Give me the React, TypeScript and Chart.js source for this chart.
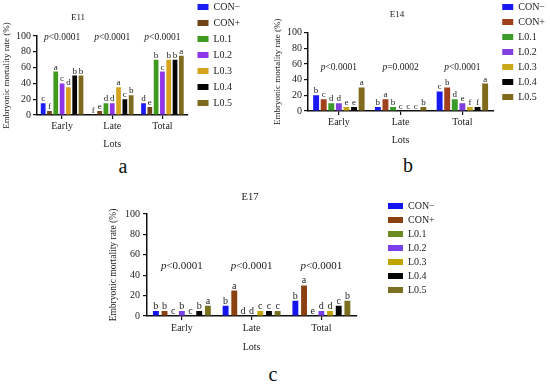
import React, { useEffect, useRef } from "react";
import { Chart, registerables } from "chart.js";

Chart.register(...registerables);

// ---------- shared data ----------
const groups = ["Early", "Late", "Total"];
const seriesNames = ["CON−", "CON+", "L0.1", "L0.2", "L0.3", "L0.4", "L0.5"];
const yTickValues = [0, 20, 40, 60, 80, 100];
const yAxisTitle = "Embryonic mortality rate (%)";
const xAxisTitle = "Lots";

// ---------- E11 ----------
const e11Values = [
  [15, 0, 15],
  [5, 5, 10],
  [55, 15, 70],
  [40, 15, 55],
  [35, 35, 70],
  [50, 20, 70],
  [50, 25, 75],
];
const e11Letters = [
  ["c", "f", "d"],
  ["f", "e", "e"],
  ["a", "d", "b"],
  ["c", "d", "c"],
  ["d", "a", "b"],
  ["b", "c", "b"],
  ["b", "b", "a"],
];
const e11PValues = ["<0.0001", "<0.0001", "<0.0001"];

// ---------- E14 ----------
const e14Values = [
  [20, 5, 25],
  [15, 15, 30],
  [10, 5, 15],
  [10, 0, 10],
  [5, 0, 5],
  [5, 0, 5],
  [30, 5, 35],
];
const e14Letters = [
  ["b", "b", "c"],
  ["c", "a", "b"],
  ["d", "b", "d"],
  ["d", "c", "e"],
  ["e", "c", "f"],
  ["e", "c", "f"],
  ["a", "b", "a"],
];
const e14PValues = ["<0.0001", "=0.0002", "<0.0001"];

// ---------- E17 ----------
const e17Values = [
  [5, 10, 15],
  [5, 25, 30],
  [0, 0, 0],
  [5, 0, 5],
  [0, 5, 5],
  [5, 5, 10],
  [10, 5, 15],
];
const e17Letters = [
  ["b", "b", "b"],
  ["b", "a", "a"],
  ["c", "d", "e"],
  ["b", "d", "d"],
  ["c", "c", "d"],
  ["b", "c", "c"],
  ["a", "c", "b"],
];
const e17PValues = ["<0.0001", "<0.0001", "<0.0001"];

// ---------- styles ----------
const e11Colors = ["#1c1cf5", "#6e4418", "#3f9a1e", "#8e35e8", "#d7a21c", "#050505", "#7d6a1e"];
const e14Colors = ["#1a1af0", "#a0401c", "#3a9a2a", "#8040e0", "#c8a818", "#050505", "#806a1c"];
const e17Colors = ["#1515f0", "#8b4010", "#6b8a22", "#7b40f0", "#c0a400", "#050505", "#7a7020"];

const SERIF = '"Liberation Serif", "Times New Roman", serif';
const INK = "#222";

type Panel = {
  title: string;
  values: number[][];
  letters: string[][];
  pValues: string[];
  colors: string[];
  left: number;
  top: number;
  width: number;
  height: number;
  padTop: number;
  padRight: number;
  legendPad: number;
  boxW: number;
  legendDX: number;
  legendDY: number;
  xTickPad: number;
  yTickPad: number;
  yTitleSize: number;
  yTitlePadT: number;
  yTitlePadB: number;
  titleX: number;
  titleY: number;
  titleSize: number;
  pLevel: number;
  pSize: number;
  letterSize: number;
  barPct: number;
  catPct: number;
};

function makeAnnotPlugin(p: Panel) {
  return {
    id: "annot" + p.title,
    afterLayout(chart: any) {
      const lg = chart.legend;
      if (lg) {
        lg.left += p.legendDX;
        lg.right += p.legendDX;
        lg.top += p.legendDY;
      }
    },
    afterDatasetsDraw(chart: any) {
      const ctx = chart.ctx as CanvasRenderingContext2D;
      ctx.save();
      ctx.fillStyle = INK;
      // title
      ctx.font = `${p.titleSize}px ${SERIF}`;
      ctx.textAlign = "center";
      ctx.textBaseline = "middle";
      ctx.fillText(p.title, p.titleX, p.titleY);
      // significance letters above bars
      ctx.font = `${p.letterSize}px ${SERIF}`;
      ctx.textBaseline = "alphabetic";
      chart.data.datasets.forEach((_ds: any, i: number) => {
        const meta = chart.getDatasetMeta(i);
        meta.data.forEach((el: any, j: number) => {
          const letter = p.letters[i][j];
          ctx.fillText(letter, el.x, el.y - 2);
        });
      });
      // p values
      const xs = chart.scales.x;
      const ys = chart.scales.y;
      const py = ys.getPixelForValue(p.pLevel);
      ctx.textAlign = "left";
      ctx.textBaseline = "middle";
      p.pValues.forEach((rest, k) => {
        const cx = xs.getPixelForValue(k);
        ctx.font = `italic ${p.pSize}px ${SERIF}`;
        const wp = ctx.measureText("p").width;
        ctx.font = `${p.pSize}px ${SERIF}`;
        const wr = ctx.measureText(rest).width;
        const x0 = cx - (wp + wr) / 2;
        ctx.font = `italic ${p.pSize}px ${SERIF}`;
        ctx.fillText("p", x0, py);
        ctx.font = `${p.pSize}px ${SERIF}`;
        ctx.fillText(rest, x0 + wp, py);
      });
      ctx.restore();
    },
  };
}

function buildConfig(p: Panel): any {
  const font = { family: SERIF, size: 10 };
  const axisLine = { display: true, color: "#111", width: 1.5 };
  const tickGrid = {
    display: true,
    drawOnChartArea: false,
    drawTicks: true,
    tickLength: 4,
    color: "#111",
    lineWidth: 1.2,
  };
  return {
    type: "bar",
    data: {
      labels: groups,
      datasets: seriesNames.map((name, i) => ({
        label: name,
        data: p.values[i],
        backgroundColor: p.colors[i],
        borderWidth: 0,
        barPercentage: p.barPct,
        categoryPercentage: p.catPct,
      })),
    },
    options: {
      responsive: false,
      animation: false,
      layout: { padding: { left: 0, right: p.padRight, top: p.padTop, bottom: 0 } },
      plugins: {
        legend: {
          display: true,
          position: "right",
          align: "start",
          labels: {
            boxWidth: p.boxW,
            boxHeight: 6,
            padding: p.legendPad,
            color: INK,
            font,
          },
        },
        title: { display: false },
        tooltip: { enabled: false },
      },
      scales: {
        x: {
          offset: true,
          grid: { ...tickGrid, offset: false },
          border: axisLine,
          ticks: { color: INK, font, padding: p.xTickPad, maxRotation: 0 },
          title: {
            display: true,
            text: xAxisTitle,
            color: INK,
            font,
            padding: { top: 5, bottom: 2 },
          },
        },
        y: {
          min: 0,
          max: 100,
          afterBuildTicks: (axis: any) => {
            axis.ticks = yTickValues.map((v) => ({ value: v }));
          },
          grid: tickGrid,
          border: axisLine,
          ticks: { color: INK, font, padding: p.yTickPad },
          title: {
            display: true,
            text: yAxisTitle,
            color: INK,
            font: { family: SERIF, size: p.yTitleSize },
            padding: { top: p.yTitlePadT, bottom: p.yTitlePadB },
          },
        },
      },
    },
    plugins: [makeAnnotPlugin(p)],
  };
}

function PanelChart({ p }: { p: Panel }) {
  const ref = useRef<HTMLCanvasElement | null>(null);
  useEffect(() => {
    if (!ref.current) return;
    const chart = new Chart(ref.current, buildConfig(p));
    return () => chart.destroy();
  }, [p]);
  return (
    <canvas
      ref={ref}
      width={p.width}
      height={p.height}
      style={{
        position: "absolute",
        left: p.left,
        top: p.top,
        width: p.width,
        height: p.height,
      }}
    />
  );
}

const panelA: Panel = {
  title: "E11",
  values: e11Values,
  letters: e11Letters,
  pValues: e11PValues,
  colors: e11Colors,
  left: 0,
  top: 0,
  width: 250,
  height: 152,
  padTop: 36,
  padRight: 0,
  legendPad: 6,
  boxW: 11,
  legendDX: 4,
  legendDY: -40,
  xTickPad: 1,
  yTickPad: 2,
  yTitleSize: 9,
  yTitlePadT: 1.6,
  yTitlePadB: 1.6,
  titleX: 78,
  titleY: 18,
  titleSize: 9,
  pLevel: 97.5,
  pSize: 9.5,
  letterSize: 9,
  barPct: 0.75,
  catPct: 0.88,
};

const panelB: Panel = {
  title: "E14",
  values: e14Values,
  letters: e14Letters,
  pValues: e14PValues,
  colors: e14Colors,
  left: 271,
  top: 0,
  width: 280,
  height: 148,
  padTop: 32.5,
  padRight: 0,
  legendPad: 5,
  boxW: 11,
  legendDX: 4,
  legendDY: -35.5,
  xTickPad: 1,
  yTickPad: 2,
  yTitleSize: 9,
  yTitlePadT: 1.6,
  yTitlePadB: 1.6,
  titleX: 126,
  titleY: 15,
  titleSize: 9,
  pLevel: 55,
  pSize: 9.5,
  letterSize: 9,
  barPct: 0.78,
  catPct: 0.86,
};

const panelC: Panel = {
  title: "E17",
  values: e17Values,
  letters: e17Letters,
  pValues: e17PValues,
  colors: e17Colors,
  left: 106,
  top: 185,
  width: 345,
  height: 170,
  padTop: 29,
  padRight: 34,
  legendPad: 4,
  boxW: 15,
  legendDX: 27.75,
  legendDY: -17,
  xTickPad: 2,
  yTickPad: 3,
  yTitleSize: 9.5,
  yTitlePadT: 1.3,
  yTitlePadB: 3.3,
  titleX: 144,
  titleY: 12,
  titleSize: 10.5,
  pLevel: 49,
  pSize: 11,
  letterSize: 10,
  barPct: 0.68,
  catPct: 0.87,
};

const panelLabels = [
  { text: "a", x: 123, top: 156 },
  { text: "b", x: 408, top: 155 },
  { text: "c", x: 273, top: 364 },
];

export default function App() {
  return (
    <div
      style={{
        position: "absolute",
        left: 0,
        top: 0,
        width: 550,
        height: 385,
        overflow: "hidden",
        background: "#fff",
      }}
    >
      <PanelChart p={panelA} />
      <PanelChart p={panelB} />
      <PanelChart p={panelC} />
      {panelLabels.map((l) => (
        <div
          key={l.text}
          style={{
            position: "absolute",
            left: l.x - 10,
            top: l.top,
            width: 20,
            textAlign: "center",
            fontFamily: SERIF,
            fontSize: 20,
            lineHeight: "20px",
            color: "#111",
          }}
        >
          {l.text}
        </div>
      ))}
    </div>
  );
}
